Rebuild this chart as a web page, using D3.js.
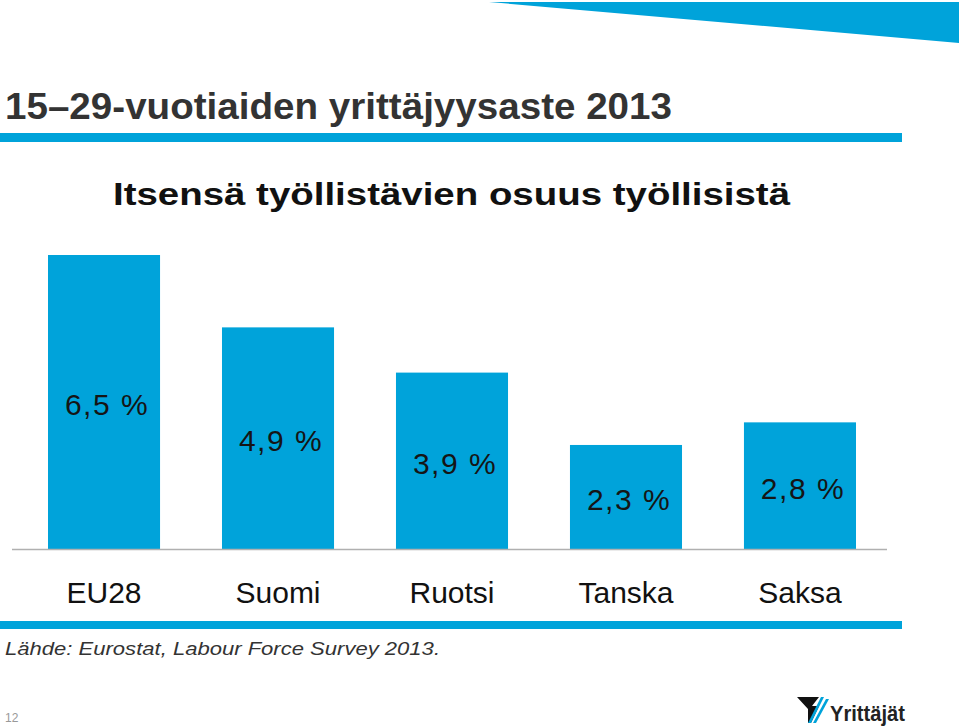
<!DOCTYPE html>
<html>
<head>
<meta charset="utf-8">
<script src="https://cdn.jsdelivr.net/npm/d3@7"></script>
<style>
  body { margin: 0; background: #fff; }
  svg { display: block; font-family: "Liberation Sans", Arial, sans-serif; }
</style>
</head>
<body>
<div id="chart"></div>
<script>
// data
var countries = ["EU28", "Suomi", "Ruotsi", "Tanska", "Saksa"];
var shares = [6.5, 4.9, 3.9, 2.3, 2.8];
var shareLabels = ["6,5 %", "4,9 %", "3,9 %", "2,3 %", "2,8 %"];

var W = 959, H = 728;
var blue = "#00a3da";

var svg = d3.select("#chart")
  .append("svg")
    .attr("width", W)
    .attr("height", H);

// top right wedge
svg.append("polygon")
  .attr("points", "489,2 959,2 959,43")
  .attr("fill", blue);

// title
svg.append("text")
  .attr("x", 5).attr("y", 119)
  .attr("font-size", 36)
  .attr("font-weight", "bold")
  .attr("fill", "#333")
  .attr("textLength", 667)
  .attr("lengthAdjust", "spacingAndGlyphs")
  .text("15–29-vuotiaiden yrittäjyysaste 2013");

svg.append("rect")
  .attr("x", 0).attr("y", 133)
  .attr("width", 902).attr("height", 9)
  .attr("fill", blue);

// subtitle
svg.append("text")
  .attr("x", 113).attr("y", 205)
  .attr("font-size", 32)
  .attr("font-weight", "bold")
  .attr("fill", "#111")
  .attr("textLength", 677)
  .attr("lengthAdjust", "spacingAndGlyphs")
  .text("Itsensä työllistävien osuus työllisistä");

// scales
var x = d3.scaleBand()
  .domain(countries)
  .range([48, 856])
  .paddingInner(0.356)
  .paddingOuter(0);

var y = d3.scaleLinear()
  .domain([0, 6.5])
  .range([549, 255]);

var rows = countries.map(function (c, i) {
  return {name: c, value: shares[i], label: shareLabels[i]};
});

// bars
svg.append("g")
  .selectAll("rect")
  .data(rows)
  .enter()
  .append("rect")
    .attr("x", function (d) { return x(d.name); })
    .attr("y", function (d) { return y(d.value); })
    .attr("width", x.bandwidth())
    .attr("height", function (d) { return y(0) - y(d.value); })
    .attr("fill", blue);

// value labels, in the middle of each bar
svg.append("g")
  .selectAll("text")
  .data(rows)
  .enter()
  .append("text")
    .attr("x", function (d) { return x(d.name) + x.bandwidth() / 2 + 3; })
    .attr("y", function (d) { return (y(d.value) + y(0)) / 2 + 13; })
    .attr("text-anchor", "middle")
    .attr("font-size", 30)
    .attr("letter-spacing", 1.5)
    .attr("fill", "#151515")
    .text(function (d) { return d.label; });

// baseline
svg.append("line")
  .attr("x1", 12).attr("x2", 887)
  .attr("y1", y(0) + 0.5).attr("y2", y(0) + 0.5)
  .attr("stroke", "#b0b0b0")
  .attr("stroke-width", 1.5);

// category axis
var xAxis = svg.append("g")
  .attr("transform", "translate(0," + y(0) + ")")
  .call(d3.axisBottom(x).tickSize(0).tickPadding(0));
xAxis.select(".domain").remove();
xAxis.selectAll("text")
  .attr("dy", null)
  .attr("y", 54)
  .attr("font-size", 30)
  .attr("font-family", "Liberation Sans, Arial, sans-serif")
  .attr("fill", "#111");

// bottom band and source
svg.append("rect")
  .attr("x", 0).attr("y", 621)
  .attr("width", 902).attr("height", 8)
  .attr("fill", blue);

svg.append("text")
  .attr("x", 5).attr("y", 655)
  .attr("font-size", 19)
  .attr("font-style", "italic")
  .attr("fill", "#333")
  .attr("textLength", 435)
  .attr("lengthAdjust", "spacingAndGlyphs")
  .text("Lähde: Eurostat, Labour Force Survey 2013.");

// page number
svg.append("text")
  .attr("x", 5).attr("y", 722)
  .attr("font-size", 12)
  .attr("fill", "#999")
  .text("12");

// logo
var logo = svg.append("g").attr("transform", "translate(797,697)");
logo.append("polygon")
  .attr("points", "0,0 22,0 15,9 22,9 14,26 11,26 11,12")
  .attr("fill", "#111");
logo.append("polygon")
  .attr("points", "24,0 27,0 14,26 11,26")
  .attr("fill", blue);
logo.append("polygon")
  .attr("points", "29,2 32,2 19,26 16,26")
  .attr("fill", blue);
logo.append("text")
  .attr("x", 33).attr("y", 24)
  .attr("font-size", 22)
  .attr("font-weight", "bold")
  .attr("fill", "#222")
  .attr("textLength", 75)
  .attr("lengthAdjust", "spacingAndGlyphs")
  .text("Yrittäjät");
</script>
</body>
</html>
